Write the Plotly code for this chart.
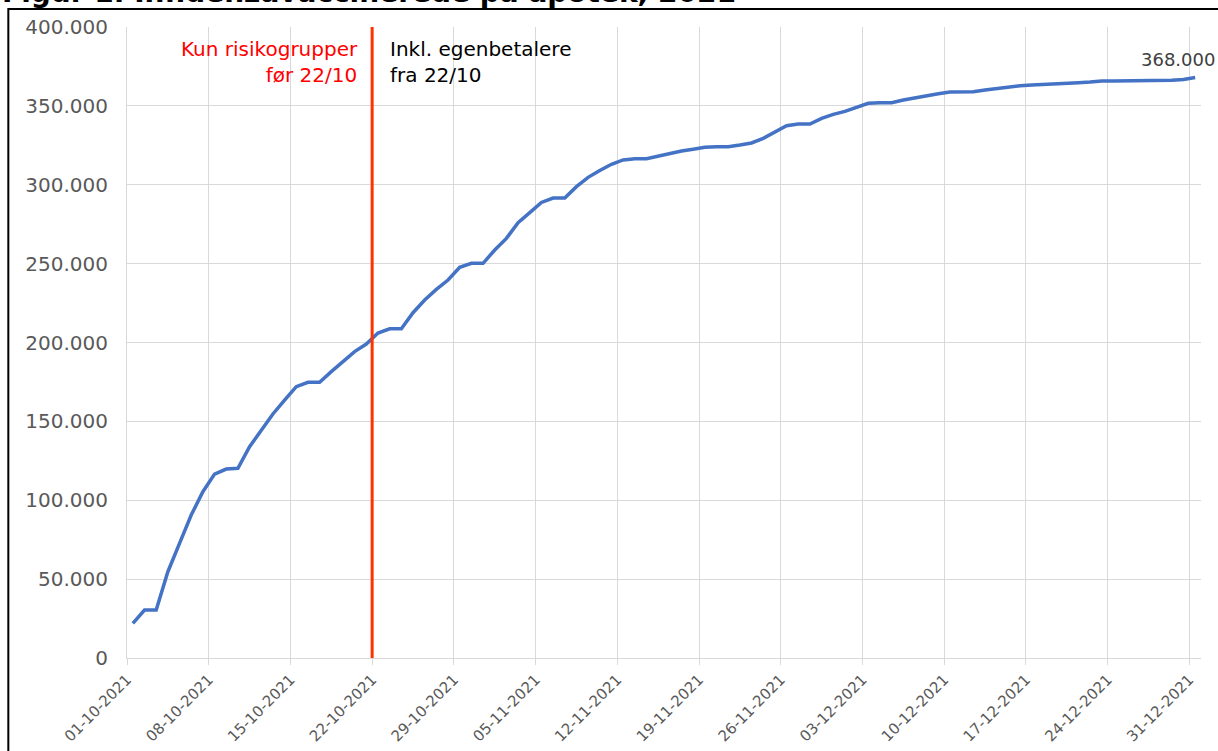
import pandas as pd
import plotly.graph_objects as go

# ---- data ----
dates = pd.date_range("2021-10-01", "2021-12-31", freq="D")
vaccinated = [
    22000, 30400, 30400, 54700, 72700, 90600, 105400, 116600, 119800, 120300,
    134000, 144500, 154700, 163500, 172000, 174800, 174800, 181500, 187800, 194200,
    199000, 206000, 208700, 208700, 218900, 226900, 233700, 239600, 247700, 250200,
    250200, 258600, 266000, 276000, 282300, 288800, 291600, 291600, 298800, 304700,
    309000, 313000, 315700, 316500, 316500, 318200, 319900, 321400, 322500, 323700,
    324100, 324100, 325200, 326500, 329400, 333600, 337400, 338500, 338500, 342100,
    344600, 346500, 349100, 351600, 352000, 352000, 353700, 355200, 356200, 357700,
    358800, 359000, 359000, 360000, 361100, 361800, 362800, 363200, 363700, 363700,
    364300, 364700, 365100, 365800, 365800, 365800, 365800, 365800, 366000, 366200,
    366700, 368000,
]
tick_dates = pd.date_range("2021-10-01", "2021-12-31", freq="7D")
split_date = "2021-10-22"
title_text = "Figur 1. Influenzavaccinerede på apotek, 2021"
left_note = "Kun risikogrupper<br>før 22/10"
right_note = "Inkl. egenbetalere<br>fra 22/10"
end_label = "368.000"

FONT = "DejaVu Sans"
GRID = "#D9D9D9"
TXT = "#595959"

# each day drawn in the middle of its band (Excel date-axis style)
x_pos = dates + pd.Timedelta(hours=12)

fig = go.Figure()
fig.add_trace(go.Scatter(
    x=x_pos, y=vaccinated, mode="lines",
    line=dict(color="#4472C4", width=3.5),
    showlegend=False, hoverinfo="skip",
))

fig.update_layout(
    width=1218, height=751,
    margin=dict(l=127, r=17, t=27, b=93),
    paper_bgcolor="white", plot_bgcolor="white",
    separators=",.",
    font=dict(family=FONT, color=TXT),
    xaxis=dict(
        type="date",
        range=["2021-10-01", "2022-01-01"],
        tickvals=tick_dates, tickformat="%d-%m-%Y", tickangle=-45,
        tickfont=dict(size=15, color=TXT, family=FONT),
        showgrid=True, gridcolor=GRID, gridwidth=1,
        showline=True, linecolor=GRID, linewidth=1,
        ticks="outside", ticklen=6, tickcolor=GRID,
        zeroline=False, automargin=False,
    ),
    yaxis=dict(
        range=[0, 400000], dtick=50000, tickformat=",d",
        tickfont=dict(size=20, color=TXT, family=FONT),
        showgrid=True, gridcolor=GRID, gridwidth=1,
        showline=True, linecolor=GRID, linewidth=1,
        ticks="", ticklabelstandoff=14,
        zeroline=False, automargin=False,
    ),
)

# split line
fig.add_shape(type="line", xref="x", yref="paper",
              x0=split_date, x1=split_date, y0=0, y1=1,
              line=dict(color="#FF3300", width=3))

fig.add_annotation(x=split_date, xref="x", y=0.987, yref="paper",
                   text=left_note, showarrow=False, xanchor="right", yanchor="top",
                   align="right", xshift=-12,
                   font=dict(family=FONT, size=20, color="#FF0000"))
fig.add_annotation(x=split_date, xref="x", y=0.987, yref="paper",
                   text=right_note, showarrow=False, xanchor="left", yanchor="top",
                   align="left", xshift=16,
                   font=dict(family=FONT, size=20, color="#000000"))

# end label
fig.add_annotation(x=x_pos[-1], y=vaccinated[-1], xref="x", yref="y",
                   text=end_label, showarrow=False, xanchor="center", yanchor="bottom",
                   xshift=-17, yshift=5,
                   font=dict(family=FONT, size=18, color="#404040"))

# title (cut off at top as in the original)
fig.add_annotation(x=-0.118, xref="paper", y=1.026, yref="paper",
                   text="<b>" + title_text + "</b>", showarrow=False,
                   xanchor="left", yanchor="bottom",
                   font=dict(family=FONT, size=28, color="#000000"))

# frame
fig.add_shape(type="rect", xref="paper", yref="paper",
              x0=-0.1105, x1=1.2, y0=-0.3, y1=1.0285,
              line=dict(color="#000000", width=2), fillcolor="rgba(0,0,0,0)")

fig.write_html("out.html", config={"displayModeBar": False},
               post_script="document.body.style.margin='0';")
